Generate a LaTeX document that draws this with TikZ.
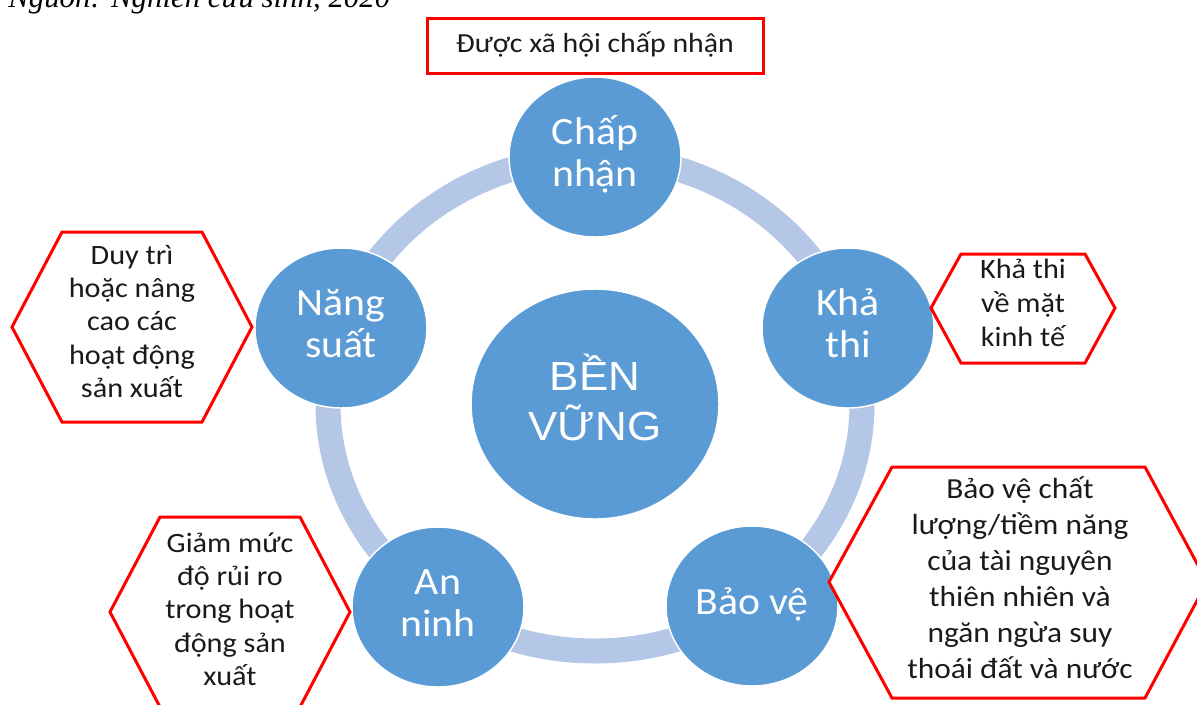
\documentclass[tikz,border=0pt]{standalone}
\usepackage{graphicx}
\usepackage{fontspec}
\setmainfont{Carlito}
\newfontfamily\arialfont{Liberation Sans}
\newfontfamily\timesfont{Liberation Serif}
\usetikzlibrary{shapes.geometric}
\definecolor{discblue}{HTML}{5B9BD5}
\definecolor{ringblue}{HTML}{B4C7E7}
\definecolor{framered}{HTML}{FF0000}
\definecolor{inktext}{HTML}{1A1A1A}
% centred lines, set slightly wide
\newcommand\widelines[1]{\scalebox{1.08}[1]{\begin{tabular}{@{}c@{}}#1\end{tabular}}}
\tikzset{
  ringpath/.style={draw=ringblue, line width=18.75pt},
  disc/.style={ellipse, fill=discblue, draw=white, line width=1.1pt, inner sep=0pt,
    minimum width=129pt, minimum height=120pt, text=white,
    font=\fontsize{29}{31.5}\selectfont},
  hub/.style={disc, minimum width=186pt, minimum height=172.5pt,
    font=\arialfont\fontsize{30.5}{35}\selectfont},
  hexline/.style={draw=framered, line width=2.25pt, fill=white, line join=miter},
  note/.style={text=inktext, inner sep=0pt,
    font=\fontsize{21}{25}\selectfont},
  bignote/.style={note, font=\fontsize{21.8}{27}\selectfont},
}
\begin{document}
\begin{tikzpicture}[x=0.75pt, y=-0.75pt]
\useasboundingbox (0,0) rectangle (1197,704);

% source line (partly above the page edge)
\node[anchor=base west, inner sep=0pt] (source) at (8,7)
  {\resizebox{286.5pt}{!}{\timesfont\itshape Nguồn: Nghiên cứu sinh, 2020}};

% ring joining the five discs
\coordinate (mid) at (595,404);
\draw[ringpath] (mid) ellipse [x radius=200.25pt, y radius=185.25pt];

% discs
\node[hub]  (hub)     at (mid)       {\widelines{BỀN\\VỮNG}};
\node[disc] (accept)  at (595,157)   {\widelines{Chấp\\nhận}};
\node[disc] (viable)  at (848,328)   {\widelines{Khả\\thi}};
\node[disc] (protect) at (752,606)   {\widelines{Bảo vệ}};
\node[disc] (secure)  at (438,607)   {\widelines{An\\ninh}};
\node[disc] (yield)   at (341,328)   {\widelines{Năng\\suất}};

% top note
\node[draw=framered, line width=2.25pt, fill=white, minimum width=252pt,
      minimum height=41.25pt, inner sep=0pt, text=inktext,
      font=\fontsize{20.7}{25}\selectfont] (accept-note) at (595,45.5)
  {\widelines{Được xã hội chấp nhận}};

% hexagon notes
\draw[hexline] (12,327) -- (62,232) -- (202,232) -- (252,327) -- (202,422) -- (62,422) -- cycle;
\node[note] (yield-note) at (132,324)
  {\widelines{Duy trì\\hoặc nâng\\cao các\\hoạt động\\sản xuất}};

\draw[hexline] (931,308) -- (961,254) -- (1085,254) -- (1115,308) -- (1085,363) -- (961,363) -- cycle;
\node[note, font=\fontsize{21}{25.5}\selectfont] (viable-note) at (1023,306)
  {\widelines{Khả thi\\về mặt\\kinh tế}};

\draw[hexline] (829,582) -- (892,467) -- (1145,467) -- (1207,582) -- (1145,698) -- (892,698) -- cycle;
\node[bignote] (protect-note) at (1020,581)
  {\widelines{Bảo vệ chất\\lượng/tiềm năng\\của tài nguyên\\thiên nhiên và\\ngăn ngừa suy\\thoái đất và nước}};

\draw[hexline] (110,612) -- (160,517) -- (300,517) -- (350,612) -- (300,707) -- (160,707) -- cycle;
\node[note] (secure-note) at (230,612)
  {\widelines{Giảm mức\\độ rủi ro\\trong hoạt\\động sản\\xuất}};
\end{tikzpicture}
\end{document}
